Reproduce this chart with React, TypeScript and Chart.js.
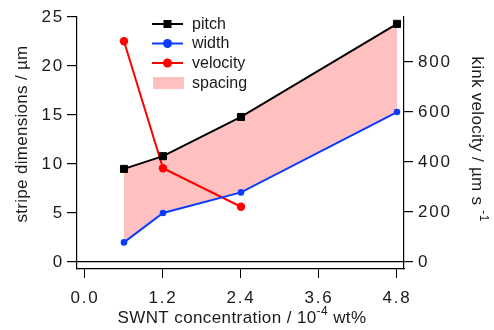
import React, { useEffect, useRef } from 'react';
import { Chart, registerables } from 'chart.js';

Chart.register(...registerables);

// ---- data ----
const concentration = [0.6, 1.2, 2.4, 4.8];
const pitch = [9.5, 10.8, 14.8, 24.3];
const width = [2.0, 5.0, 7.1, 15.3];
const velocityConc = [0.6, 1.2, 2.4];
const velocity = [883, 375, 221];
const xTicks = [0, 1.2, 2.4, 3.6, 4.8];
const yLeftTicks = [0, 5, 10, 15, 20, 25];
const yRightTicks = [0, 200, 400, 600, 800];
const seriesLabels = ['pitch', 'width', 'velocity', 'spacing'];

const FONT = '"Liberation Sans", Arial, Helvetica, sans-serif';
const BLACK = '#000000';
const BLUE = '#0a3cff';
const RED = '#ff0000';
const PINK = '#ffc0c0';
const TEXT = '#1a1a1a';

type Part = { t: string; sup?: boolean };

function drawRich(ctx: CanvasRenderingContext2D, parts: Part[], cx: number, cy: number, rot: number, size: number, spacing: number) {
  ctx.save();
  ctx.translate(cx, cy);
  ctx.rotate(rot);
  ctx.fillStyle = TEXT;
  ctx.textBaseline = 'middle';
  ctx.textAlign = 'left';
  (ctx as any).letterSpacing = `${spacing}px`;
  const supSize = Math.round(size * 0.68);
  let total = 0;
  const widths = parts.map((p) => {
    ctx.font = `${p.sup ? supSize : size}px ${FONT}`;
    const w = ctx.measureText(p.t).width;
    total += w;
    return w;
  });
  let x = -total / 2;
  parts.forEach((p, i) => {
    ctx.font = `${p.sup ? supSize : size}px ${FONT}`;
    ctx.fillText(p.t, x, p.sup ? -size * 0.36 : 0);
    x += widths[i];
  });
  ctx.restore();
}

const spacingPlugin = {
  id: 'tickSpacing',
  beforeDraw(chart: any) {
    (chart.ctx as any).letterSpacing = '1.8px';
  },
  beforeDatasetsDraw(chart: any) {
    (chart.ctx as any).letterSpacing = '0px';
  },
};

const annotations = {
  id: 'annotations',
  afterDraw(chart: any) {
    const ctx: CanvasRenderingContext2D = chart.ctx;
    (ctx as any).letterSpacing = '0px';
    // axis titles
    drawRich(ctx, [{ t: 'stripe dimensions / µm' }], 22, 134, -Math.PI / 2, 17, 0.3);
    drawRich(ctx, [{ t: 'kink velocity / µm s ' }, { t: '-1', sup: true }], 477, 139, Math.PI / 2, 17, 0.3);
    drawRich(ctx, [{ t: 'SWNT concentration / 10' }, { t: '-4', sup: true }, { t: ' wt%' }], 242, 318, 0, 17, 0.4);

    // legend
    const rows = [24, 43.5, 63, 83];
    const colors = [BLACK, BLUE, RED];
    const lx0 = 152, lx1 = 183, mx = 167.5, tx = 192;
    ctx.save();
    for (let i = 0; i < 3; i++) {
      const y = rows[i];
      ctx.strokeStyle = colors[i];
      ctx.lineWidth = 2;
      ctx.beginPath();
      ctx.moveTo(lx0, y);
      ctx.lineTo(lx1, y);
      ctx.stroke();
      ctx.fillStyle = colors[i];
      if (i === 0) {
        ctx.fillRect(mx - 4, y - 4, 8, 8);
      } else {
        ctx.beginPath();
        ctx.arc(mx, y, 4.5, 0, Math.PI * 2);
        ctx.fill();
      }
    }
    ctx.fillStyle = PINK;
    ctx.fillRect(lx0 + 1, rows[3] - 6, 31, 12);
    ctx.fillStyle = TEXT;
    ctx.font = `16px ${FONT}`;
    ctx.textBaseline = 'middle';
    ctx.textAlign = 'left';
    seriesLabels.forEach((lab, i) => ctx.fillText(lab, tx, rows[i] + 0.5));
    ctx.restore();
  },
};

export default function App() {
  const ref = useRef<HTMLCanvasElement | null>(null);

  useEffect(() => {
    document.body.style.margin = '0';
    if (!ref.current) return;
    const pts = (xs: number[], ys: number[]) => xs.map((x, i) => ({ x, y: ys[i] }));
    const tickFont = { family: FONT, size: 17 };
    const chart = new Chart(ref.current, {
      type: 'line',
      data: {
        datasets: [
          {
            label: seriesLabels[0],
            data: pts(concentration, pitch),
            borderColor: BLACK,
            backgroundColor: BLACK,
            borderWidth: 2,
            pointStyle: 'rect',
            pointRadius: 5,
            pointBorderWidth: 1,
            yAxisID: 'y',
            order: 0,
          },
          {
            label: seriesLabels[1],
            data: pts(concentration, width),
            borderColor: BLUE,
            backgroundColor: BLUE,
            borderWidth: 2,
            pointStyle: 'circle',
            pointRadius: 3.3,
            pointBorderWidth: 0,
            yAxisID: 'y',
            order: 0,
          },
          {
            label: seriesLabels[2],
            data: pts(velocityConc, velocity),
            borderColor: RED,
            backgroundColor: RED,
            borderWidth: 2,
            pointStyle: 'circle',
            pointRadius: 4.2,
            pointBorderWidth: 0,
            yAxisID: 'y2',
            order: 0,
          },
          {
            label: seriesLabels[3],
            data: pts(concentration, pitch),
            borderColor: 'rgba(0,0,0,0)',
            backgroundColor: PINK,
            borderWidth: 0,
            pointRadius: 0,
            fill: 1,
            yAxisID: 'y',
            order: 10,
          },
        ],
      },
      options: {
        responsive: false,
        animation: false,
        devicePixelRatio: 1,
        layout: { padding: { top: 17, left: 0, right: 0, bottom: 0 } },
        plugins: { legend: { display: false }, tooltip: { enabled: false } },
        elements: { line: { tension: 0 } },
        scales: {
          x: {
            type: 'linear',
            min: -0.123,
            max: 4.908,
            afterBuildTicks: (s: any) => { s.ticks = xTicks.map((v) => ({ value: v })); },
            afterFit: (s: any) => { s.height = 61; },
            ticks: {
              font: tickFont,
              color: TEXT,
              padding: 10,
              maxRotation: 0,
              callback: (v: any) => Number(v).toFixed(1),
            },
            grid: { drawOnChartArea: false, tickLength: 9, color: BLACK, tickColor: BLACK, lineWidth: 1 },
            border: { display: true, color: BLACK, width: 1.2 },
          },
          y: {
            type: 'linear',
            position: 'left',
            min: -0.714,
            max: 25,
            afterBuildTicks: (s: any) => { s.ticks = yLeftTicks.map((v) => ({ value: v })); },
            afterFit: (s: any) => { s.width = 77; },
            ticks: { font: tickFont, color: TEXT, padding: 3 },
            grid: {
              drawOnChartArea: true,
              tickLength: 10,
              color: (c: any) => (c.tick && c.tick.value === 0 ? BLACK : 'rgba(0,0,0,0)'),
              tickColor: BLACK,
              lineWidth: 1.2,
            },
            border: { display: true, color: BLACK, width: 1.2 },
          },
          y2: {
            type: 'linear',
            position: 'right',
            min: -28,
            max: 980,
            afterBuildTicks: (s: any) => { s.ticks = yRightTicks.map((v) => ({ value: v })); },
            afterFit: (s: any) => { s.width = 90; },
            ticks: { font: tickFont, color: TEXT, padding: 5 },
            grid: { drawOnChartArea: false, tickLength: 9, color: BLACK, tickColor: BLACK, lineWidth: 1.2 },
            border: { display: true, color: BLACK, width: 1.2 },
          },
        },
      },
      plugins: [spacingPlugin, annotations],
    });
    return () => chart.destroy();
  }, []);

  return (
    <div style={{ width: 494, height: 330 }}>
      <canvas ref={ref} width={494} height={330} style={{ display: 'block', width: 494, height: 330 }} />
    </div>
  );
}
